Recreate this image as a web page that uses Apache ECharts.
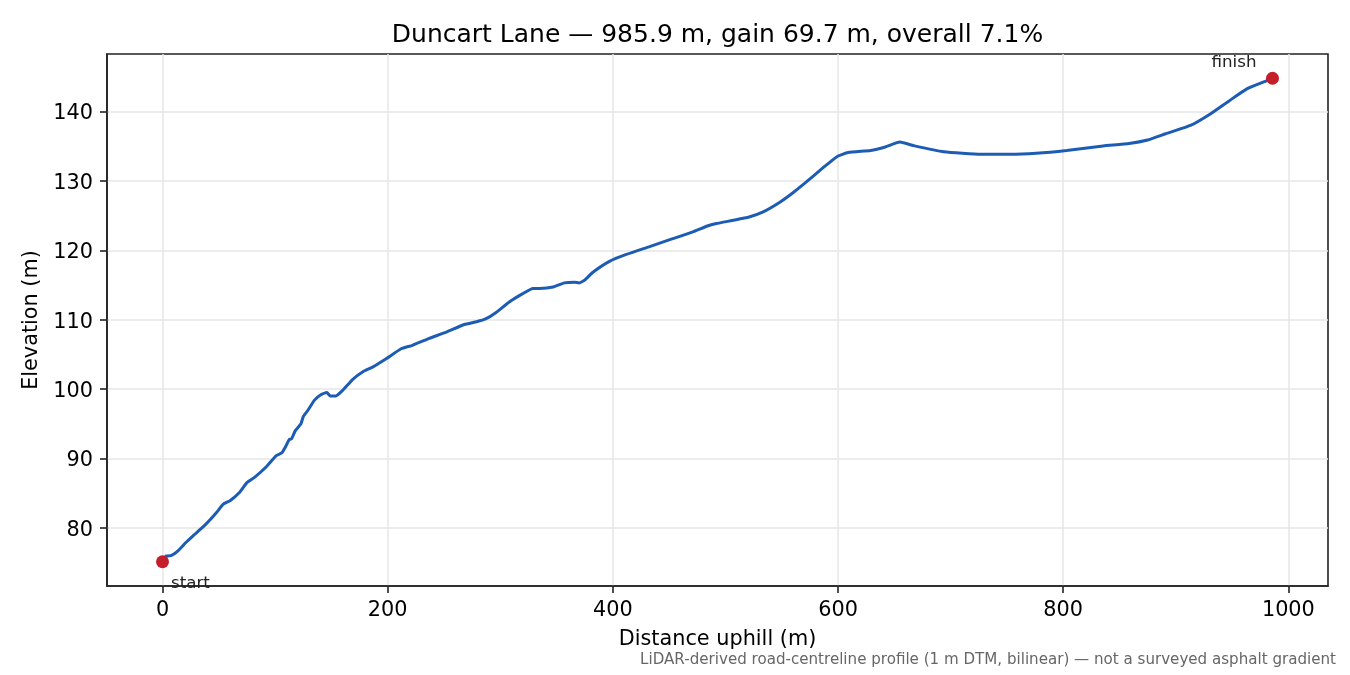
<!DOCTYPE html>
<html lang="en">
<head>
    <meta charset="UTF-8">
    <title>Duncart Lane profile</title>
    <script src="https://cdn.jsdelivr.net/npm/echarts@6/dist/echarts.min.js"></script>
    <style>
        html, body {
            margin: 0;
            padding: 0;
            background: #fff;
        }
        #box {
            width: 1350px;
            height: 675px;
        }
    </style>
</head>
<body>
    <div id="box"></div>
    <script>
        // profile: distance along the road (m) and elevation (m)
        const distM = [2, 8, 14, 21, 29, 39, 48, 54, 60, 69, 75, 82, 92, 101, 106, 110, 112.5, 114.5, 118, 123,
            125, 129, 135, 141, 146, 149, 154, 160, 169, 178, 187, 199, 212, 222, 237, 252, 268, 279, 287, 296,
            308, 320, 329, 335, 347, 357, 366, 370, 375, 382, 397, 412, 432, 450, 471, 484, 492, 506, 521, 533,
            548, 560, 570, 586, 599, 609, 629, 642, 655, 668, 694, 727, 753, 776, 803, 835.5, 858.5, 875, 891, 913,
            931, 947, 963.5, 980, 985.9]
        const elevM = [75.9, 76.0, 76.7, 77.9, 79.1, 80.6, 82.2, 83.4, 83.9, 85.2, 86.5, 87.3, 88.75, 90.4, 90.8, 91.9, 92.7, 92.8, 94.0, 95.0,
            96.0, 96.9, 98.4, 99.2, 99.5, 99.0, 99.0, 99.8, 101.4, 102.5, 103.2, 104.4, 105.8, 106.3, 107.3, 108.2, 109.3, 109.7, 110.1, 111.0,
            112.55, 113.75, 114.5, 114.5, 114.7, 115.3, 115.4, 115.3, 115.7, 116.8, 118.4, 119.4, 120.5, 121.5, 122.65, 123.5, 123.85, 124.3, 124.8, 125.5,
            126.9, 128.3, 129.6, 131.8, 133.5, 134.1, 134.4, 134.9, 135.6, 135.05, 134.2, 133.85, 133.85, 134.0, 134.4, 135.05, 135.4, 135.9, 136.8, 138.0,
            139.7, 141.5, 143.3, 144.4, 144.8]

        // end points
        const startPt = [0, 75.1]
        const finishPt = [985.9, 144.8]

        // tick labels
        const xTicks = [0, 200, 400, 600, 800, 1000]
        const yTicks = [80, 90, 100, 110, 120, 130, 140]

        const titleText = 'Duncart Lane — 985.9 m, gain 69.7 m, overall 7.1%'
        const noteText = 'LiDAR-derived road-centreline profile (1 m DTM, bilinear) — not a surveyed asphalt gradient'

        const lineData = distM.map((d, i) => [d, elevM[i]])
        const font = 'DejaVu Sans'

        var myChart = echarts.init(document.getElementById('box'))
        var option = {
            animation: false,
            backgroundColor: '#fff',
            title: {
                text: titleText,
                left: 712.5,
                top: 18,
                textAlign: 'center',
                textStyle: {
                    fontFamily: font,
                    fontSize: 25,
                    fontWeight: 'normal',
                    color: '#000'
                }
            },
            graphic: [{
                type: 'text',
                right: 14,
                top: 653,
                style: {
                    text: noteText,
                    font: '15.1px "DejaVu Sans"',
                    fill: '#666'
                }
            }],
            grid: {
                left: 107,
                right: 22,
                top: 54,
                bottom: 89,
                show: true,
                borderColor: '#222',
                borderWidth: 1.6,
                backgroundColor: 'transparent'
            },
            xAxis: {
                type: 'value',
                min: -49.3,
                max: 1035.2,
                name: 'Distance uphill (m)',
                nameLocation: 'middle',
                nameGap: 43,
                nameTextStyle: { fontFamily: font, fontSize: 20.8, color: '#000' },
                axisLine: { show: true, onZero: false, lineStyle: { color: '#222', width: 1.6 } },
                axisTick: { show: true, inside: false, length: 7, customValues: xTicks, lineStyle: { color: '#222', width: 1.6 } },
                axisLabel: { customValues: xTicks, formatter: v => String(v), margin: 14, fontFamily: font, fontSize: 20.8, color: '#000' },
                splitLine: { show: true, lineStyle: { color: '#e6e6e6', width: 1.5 } }
            },
            yAxis: {
                type: 'value',
                min: 71.6,
                max: 148.3,
                name: 'Elevation (m)',
                nameLocation: 'middle',
                nameGap: 57,
                nameTextStyle: { fontFamily: font, fontSize: 20.8, color: '#000' },
                axisLine: { show: true, onZero: false, lineStyle: { color: '#222', width: 1.6 } },
                axisTick: { show: true, inside: false, length: 7, customValues: yTicks, lineStyle: { color: '#222', width: 1.6 } },
                axisLabel: {
                    customValues: yTicks,
                    formatter: v => '{t|' + v + '}',
                    margin: 14,
                    rich: { t: { fontFamily: font, fontSize: 20.8, color: '#000', padding: [5, 0, 0, 0] } }
                },
                splitLine: { show: true, lineStyle: { color: '#e6e6e6', width: 1.5 } }
            },
            series: [{
                type: 'line',
                data: lineData,
                showSymbol: false,
                smooth: 0.15,
                lineStyle: { color: '#1c5cb4', width: 3 },
                z: 2
            }, {
                type: 'scatter',
                data: [startPt],
                symbolSize: 13,
                itemStyle: { color: '#c41e2a', opacity: 1 },
                label: {
                    show: true,
                    formatter: 'start',
                    position: [15, 28.5],
                    align: 'left',
                    verticalAlign: 'middle',
                    fontFamily: font,
                    fontSize: 16.7,
                    color: '#222'
                },
                z: 3
            }, {
                type: 'scatter',
                data: [finishPt],
                symbolSize: 13,
                itemStyle: { color: '#c41e2a', opacity: 1 },
                label: {
                    show: true,
                    formatter: 'finish',
                    position: [-9.5, -9.5],
                    align: 'right',
                    verticalAlign: 'middle',
                    fontFamily: font,
                    fontSize: 16.7,
                    color: '#222'
                },
                z: 3
            }]
        }
        myChart.setOption(option)
    </script>
</body>
</html>
